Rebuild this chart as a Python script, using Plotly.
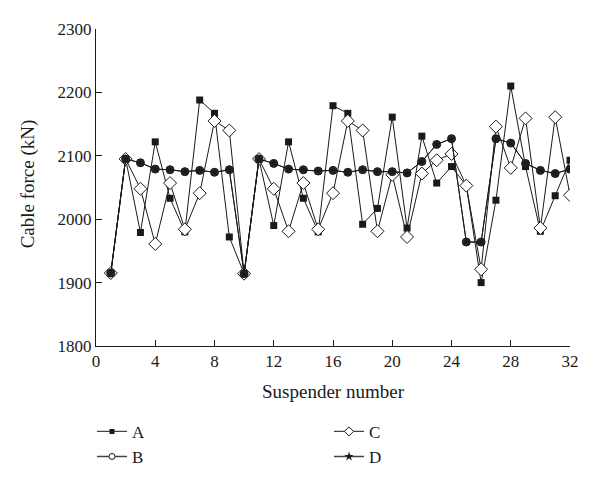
import plotly.graph_objects as go

suspender = list(range(1, 33))
series_a = [1915, 2095, 1979, 2122, 2033, 1980, 2188, 2167, 1972, 1914,
            2095, 1990, 2122, 2033, 1980, 2179, 2167, 1992, 2017, 2161,
            1986, 2131, 2057, 2083, 2053, 1900, 2030, 2210, 2083, 1981,
            2037, 2093]
series_b = [1915, 2095, 2089, 2079, 2078, 2075, 2077, 2074, 2078, 1914,
            2095, 2088, 2079, 2078, 2076, 2077, 2074, 2078, 2075, 2075,
            2073, 2091, 2118, 2127, 1964, 1964, 2127, 2120, 2088, 2077,
            2072, 2079]
series_c = [1915, 2095, 2048, 1961, 2057, 1984, 2041, 2155, 2140, 1914,
            2095, 2048, 1981, 2057, 1984, 2041, 2155, 2140, 1981, 2070,
            1972, 2072, 2093, 2103, 2053, 1921, 2146, 2081, 2159, 1986,
            2161, 2038]
series_d = list(series_b)

x_ticks = [0, 4, 8, 12, 16, 20, 24, 28, 32]
y_ticks = [1800, 1900, 2000, 2100, 2200, 2300]

FONT = "Liberation Serif"
INK = "#1a1a1a"
LINE = dict(color=INK, width=1)

fig = go.Figure()
# plotted series (legend drawn separately with the reference's key symbols)
fig.add_trace(go.Scatter(x=suspender, y=series_a, name="A", mode="lines+markers",
                         line=LINE, showlegend=False,
                         marker=dict(symbol="square", size=7, color=INK)))
fig.add_trace(go.Scatter(x=suspender, y=series_c, name="C", mode="lines+markers",
                         line=LINE, showlegend=False,
                         marker=dict(symbol="diamond", size=10, color="white",
                                     line=dict(color=INK, width=1))))
fig.add_trace(go.Scatter(x=suspender, y=series_b, name="B", mode="lines+markers",
                         line=LINE, showlegend=False,
                         marker=dict(symbol="circle", size=8, color="#2a2a2a",
                                     line=dict(color=INK, width=1))))
fig.add_trace(go.Scatter(x=suspender, y=series_d, name="D", mode="lines+markers",
                         line=LINE, showlegend=False,
                         marker=dict(symbol="star", size=6, color=INK)))

# legend keys
def key(name, legend, marker):
    fig.add_trace(go.Scatter(x=[None], y=[None], name=name, mode="lines+markers",
                             line=dict(color="#444444", width=1.3), legend=legend,
                             marker=marker))

key("A", "legend", dict(symbol="square", size=5, color=INK))
key("B", "legend", dict(symbol="circle", size=6, color="white", line=dict(color=INK, width=1)))
key("C", "legend2", dict(symbol="diamond", size=7, color="white", line=dict(color=INK, width=1)))
key("D", "legend2", dict(symbol="star", size=7, color=INK))

legend_common = dict(orientation="v", bgcolor="rgba(0,0,0,0)", xanchor="left",
                     yanchor="top", xref="container", yref="container",
                     font=dict(family=FONT, size=17, color=INK),
                     itemwidth=30, tracegroupgap=0, traceorder="normal")

fig.update_layout(
    width=600, height=482,
    margin=dict(l=88, r=38, t=21, b=144, autoexpand=False),
    paper_bgcolor="white", plot_bgcolor="white",
    font=dict(family=FONT, size=16, color=INK),
    xaxis=dict(range=[0, 32], tickvals=x_ticks, ticks="inside", ticklen=6,
               tickcolor=INK, showline=True, linecolor=INK, linewidth=1,
               showgrid=False, zeroline=False, tickfont=dict(size=17), automargin=True,
               title=dict(text="Suspender number", font=dict(size=19), standoff=14)),
    yaxis=dict(range=[1800, 2300], tickvals=y_ticks, ticks="inside", ticklen=6,
               tickcolor=INK, showline=True, linecolor=INK, linewidth=1,
               showgrid=False, zeroline=False, tickfont=dict(size=17), automargin=True),
    annotations=[dict(text="Cable force (kN)", xref="paper", yref="paper",
                      x=-0.1435, y=0.513, xanchor="center", yanchor="middle",
                      textangle=-90, showarrow=False, font=dict(size=19))],
    legend=dict(x=0.14, y=0.158, **legend_common),
    legend2=dict(x=0.535, y=0.158, **legend_common),
)

fig.write_html("out.html")
